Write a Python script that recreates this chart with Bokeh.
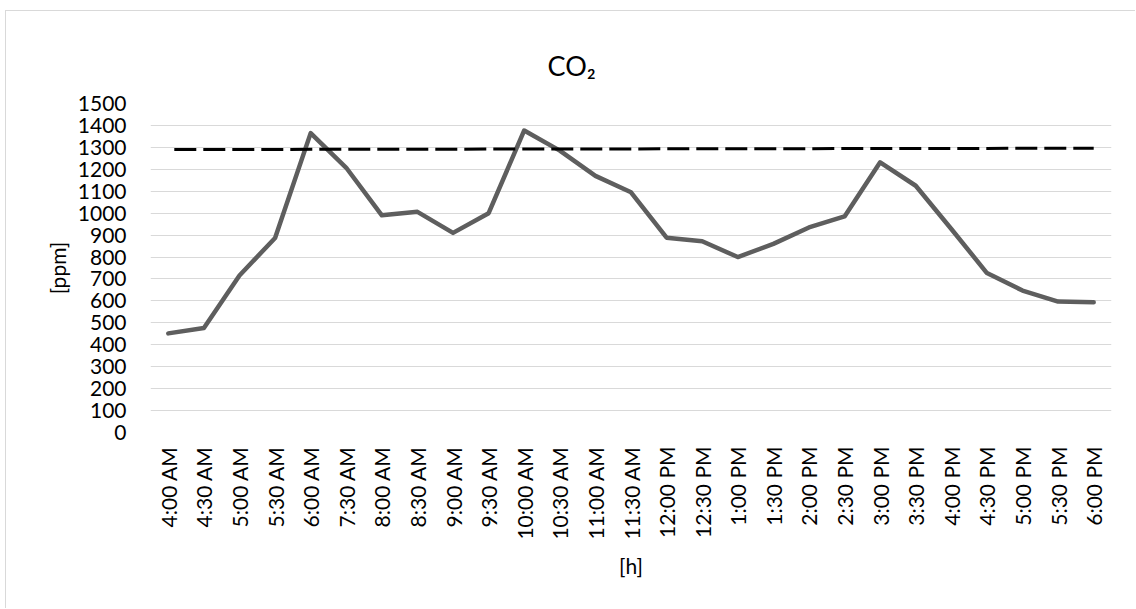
from bokeh.plotting import figure
from bokeh.models import Range1d, FixedTicker, ColumnDataSource
from bokeh.embed import file_html
from bokeh.resources import INLINE
import math

# half-hourly CO2 readings
times = ["4:00 AM", "4:30 AM", "5:00 AM", "5:30 AM", "6:00 AM", "7:30 AM",
         "8:00 AM", "8:30 AM", "9:00 AM", "9:30 AM", "10:00 AM", "10:30 AM",
         "11:00 AM", "11:30 AM", "12:00 PM", "12:30 PM", "1:00 PM", "1:30 PM",
         "2:00 PM", "2:30 PM", "3:00 PM", "3:30 PM", "4:00 PM", "4:30 PM",
         "5:00 PM", "5:30 PM", "6:00 PM"]
co2_ppm = [452, 476, 716, 887, 1365, 1207, 990, 1006, 910, 1000, 1377, 1285,
           1170, 1095, 888, 872, 800, 860, 935, 985, 1232, 1125, 928, 727,
           647, 597, 594]

# reference level drawn as a dashed line across the day
limit_times = [times[0], times[-1]]
limit_ppm = [1290, 1296]

y_ticks = list(range(0, 1501, 100))

FONT = "Lato"

p = figure(width=1130, height=598, x_range=times, y_range=Range1d(0, 1500),
           output_backend="svg", toolbar_location=None,
           min_border_left=144, min_border_right=25,
           min_border_top=92, min_border_bottom=177,
           margin=(10, 0, 0, 5),
           styles={"border-top": "1px solid #d9d9d9",
                   "border-left": "1px solid #d9d9d9"})

p.outline_line_color = None
p.background_fill_color = "white"
p.border_fill_color = "white"

p.title.text = "CO\u2082"
p.title.text_font = FONT
p.title.text_font_size = "27px"
p.title.text_font_style = "normal"
p.title.text_color = "#000000"
p.title.align = "left"
p.title.offset = 397
p.title.standoff = 44

src = ColumnDataSource(dict(t=times, v=co2_ppm))
p.line("t", "v", source=src, line_color="#5e5e5e", line_width=4.5,
       line_join="round", line_cap="round")

lim = ColumnDataSource(dict(t=limit_times, v=limit_ppm))
p.line("t", "v", source=lim, line_color="#000000", line_width=3,
       line_dash="22 7", line_dash_offset=-6)

# y axis
p.yaxis.ticker = FixedTicker(ticks=y_ticks)
p.yaxis.axis_line_color = None
p.yaxis.major_tick_line_color = None
p.yaxis.minor_tick_line_color = None
p.yaxis.major_label_text_font = FONT
p.yaxis.major_label_text_font_size = "21px"
p.yaxis.major_label_text_color = "#000000"
p.yaxis.major_label_standoff = 18
p.yaxis.axis_label = "[ppm]"
p.yaxis.axis_label_text_font = FONT
p.yaxis.axis_label_text_font_size = "21px"
p.yaxis.axis_label_text_font_style = "normal"
p.yaxis.axis_label_text_color = "#000000"
p.yaxis.axis_label_standoff = 5

# x axis
p.xaxis.axis_line_color = None
p.xaxis.major_tick_line_color = None
p.xaxis.minor_tick_line_color = None
p.xaxis.major_label_orientation = math.pi / 2
p.xaxis.major_label_text_font = FONT
p.xaxis.major_label_text_font_size = "21px"
p.xaxis.major_label_text_color = "#000000"
p.xaxis.major_label_standoff = 8
p.xaxis.axis_label = "[h]"
p.xaxis.axis_label_text_font = FONT
p.xaxis.axis_label_text_font_size = "21px"
p.xaxis.axis_label_text_font_style = "normal"
p.xaxis.axis_label_text_color = "#000000"
p.xaxis.axis_label_standoff = 10

p.xgrid.grid_line_color = None
p.ygrid.grid_line_color = "#d9d9d9"
p.ygrid.grid_line_width = 1.2

open("out.html", "w").write(file_html(p, INLINE))
